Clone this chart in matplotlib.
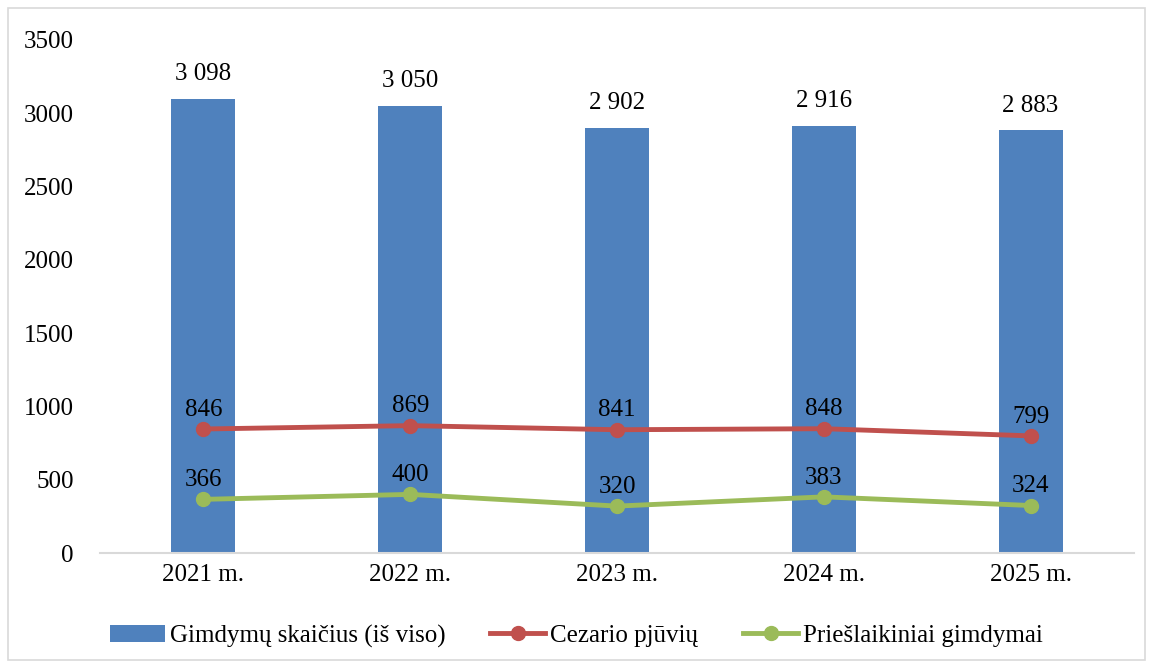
import matplotlib
matplotlib.use("Agg")
import matplotlib.pyplot as plt
from matplotlib.patches import Rectangle
import numpy as np

categories = ["2021 m.", "2022 m.", "2023 m.", "2024 m.", "2025 m."]
total_births = [3098, 3050, 2902, 2916, 2883]
cesarean = [846, 869, 841, 848, 799]
premature = [366, 400, 320, 383, 324]
bar_labels = ["3 098", "3 050", "2 902", "2 916", "2 883"]
yticks = [0, 500, 1000, 1500, 2000, 2500, 3000, 3500]

plt.rcParams['font.family'] = ['Liberation Serif', 'DejaVu Serif']
FS = 18

fig = plt.figure(figsize=(11.53, 6.68), dpi=100)
ax = fig.add_axes([100/1153, 1-553/668, (1134-100)/1153, (553-40)/668])

x = np.arange(len(categories))
b = ax.bar(x, total_births, width=0.31, color="#4F81BD", label="Gimdymų skaičius (iš viso)", zorder=2)
l1, = ax.plot(x, cesarean, color="#C0504D", lw=3.5, marker="o", ms=10, label="Cezario pjūvių", zorder=3)
l2, = ax.plot(x, premature, color="#9BBB59", lw=3.5, marker="o", ms=10, label="Priešlaikiniai gimdymai", zorder=3)

for xi, v, s in zip(x, total_births, bar_labels):
    ax.annotate(s, (xi, v), xytext=(0, 10), textcoords="offset points", ha="center", va="bottom", fontsize=FS)
for xi, v in zip(x, cesarean):
    ax.annotate(str(v), (xi, v), xytext=(0, 6), textcoords="offset points", ha="center", va="bottom", fontsize=FS)
for xi, v in zip(x, premature):
    ax.annotate(str(v), (xi, v), xytext=(0, 6), textcoords="offset points", ha="center", va="bottom", fontsize=FS)

ax.set_xlim(-0.5, len(categories) - 0.5)
ax.set_ylim(0, 3500)
ax.set_yticks(yticks)
ax.set_yticklabels([str(t) for t in yticks], fontsize=FS)
ax.set_xticks(x)
ax.set_xticklabels(categories, fontsize=FS)
ax.tick_params(axis="x", length=0, pad=8)
ax.tick_params(axis="y", length=0, pad=19)
for s in ["top", "right", "left"]:
    ax.spines[s].set_visible(False)
ax.spines["bottom"].set_color("#D9D9D9")
ax.spines["bottom"].set_linewidth(1.5)

leg = fig.legend(handles=[b, l1, l2], loc="center", bbox_to_anchor=(0.5, 1-636/668), ncol=3, frameon=False,
                 fontsize=FS, handlelength=2.2, columnspacing=1.8, handletextpad=0.2)

fig.patches.append(Rectangle((8/1153, 8/668), 1 - 16/1153, 1 - 16/668, transform=fig.transFigure,
                             fill=False, edgecolor="#D9D9D9", lw=1.2))

fig.savefig("out.png", dpi=100)
